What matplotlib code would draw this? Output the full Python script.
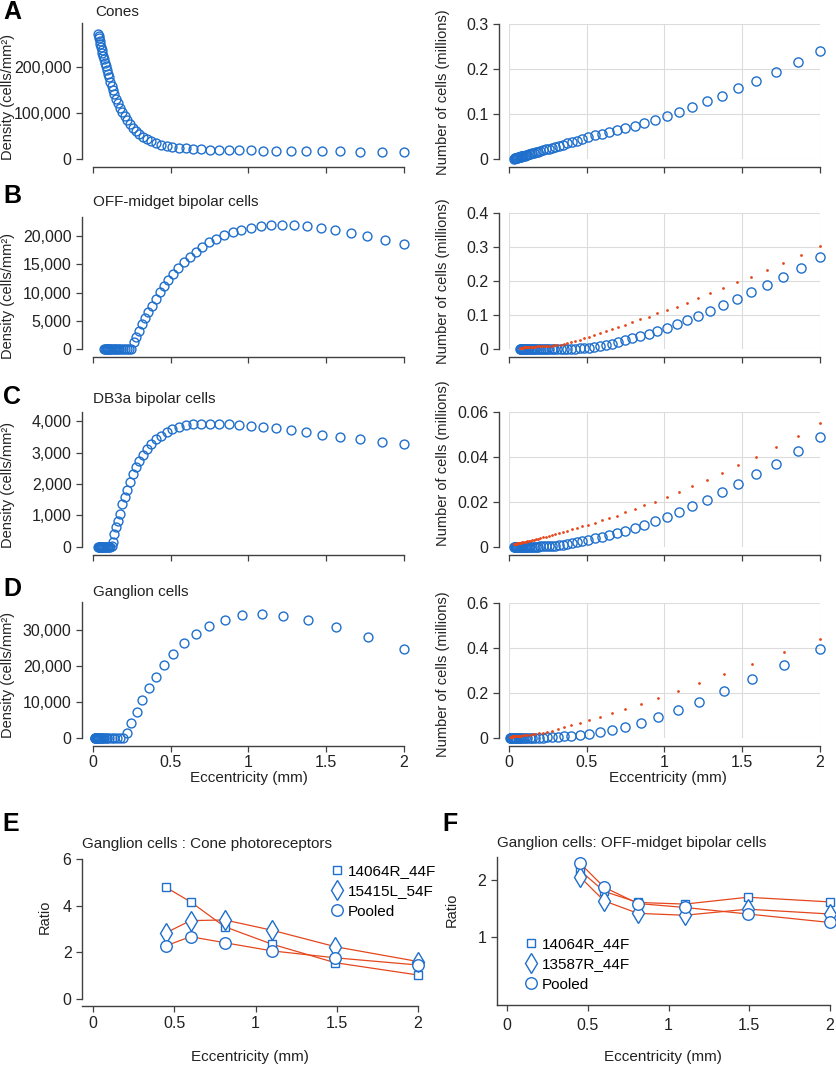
import matplotlib
matplotlib.use('Agg')
import matplotlib.pyplot as plt
from matplotlib.ticker import FuncFormatter, NullLocator
from matplotlib.lines import Line2D

plt.rcParams['font.family'] = ['Liberation Sans', 'DejaVu Sans']

# ---------------- data ----------------
# eccentricity (mm) sampling for cones / DB3a rows
ecc_ac = [0.035, 0.038, 0.041, 0.044, 0.048, 0.052, 0.056, 0.060, 0.065, 0.070,
          0.076, 0.082, 0.088, 0.095, 0.102, 0.110, 0.119, 0.128, 0.138, 0.149,
          0.161, 0.174, 0.188, 0.203, 0.219, 0.237, 0.256, 0.276, 0.298, 0.322,
          0.348, 0.376, 0.406, 0.438, 0.473, 0.511, 0.552, 0.597, 0.645, 0.696,
          0.750, 0.810, 0.872, 0.939, 1.014, 1.091, 1.177, 1.271, 1.370, 1.475,
          1.590, 1.717, 1.856, 2.000]

cone_density = [272000, 267000, 262000, 257000, 250000, 244000, 237000, 231000, 224000, 217000,
                209000, 201000, 193000, 185000, 177000, 168000, 159000, 150000, 141000, 131000,
                121000, 111000, 102000, 93000, 84000, 76000, 68000, 61000, 54000, 48000,
                43000, 38000, 34000, 31000, 28500, 26500, 24500, 23000, 22000, 21200,
                20500, 20000, 19500, 19000, 18600, 18200, 17800, 17400, 17100, 16800,
                16500, 16200, 15900, 15600]

cone_count = [0.0010, 0.0013, 0.0016, 0.0019, 0.0023, 0.0027, 0.0031, 0.0035, 0.0040, 0.0045,
              0.0051, 0.0057, 0.0063, 0.0070, 0.0077, 0.0085, 0.0094, 0.0103, 0.0113, 0.0124,
              0.0136, 0.0149, 0.0164, 0.0179, 0.0195, 0.0213, 0.0232, 0.0252, 0.0273, 0.0297,
              0.0322, 0.0350, 0.0378, 0.0410, 0.0445, 0.0480, 0.0525, 0.0565, 0.0595, 0.0640,
              0.0680, 0.0735, 0.0800, 0.0875, 0.0960, 0.1040, 0.1150, 0.1280, 0.1410, 0.1570,
              0.1740, 0.1940, 0.2160, 0.2400]

db3a_density = [0, 0, 0, 0, 0, 0, 0, 0, 0, 0,
                0, 0, 0, 0, 0, 0, 20, 150, 400, 620,
                820, 1050, 1350, 1580, 1820, 2060, 2300, 2530, 2720, 2920,
                3100, 3260, 3420, 3540, 3660, 3750, 3820, 3870, 3895, 3905,
                3915, 3915, 3900, 3875, 3850, 3815, 3780, 3715, 3640, 3565,
                3490, 3415, 3340, 3265]

db3a_count = [0, 0, 0, 0, 0, 0, 0, 0, 0, 0,
              0, 0, 0, 0, 0, 0, 0, 0, 0, 0.00001,
              0.00002, 0.00004, 0.00007, 0.0001, 0.00015, 0.0002, 0.0003, 0.0004, 0.0005, 0.0007,
              0.0009, 0.0012, 0.0016, 0.0020, 0.0025, 0.0031, 0.0037, 0.0044, 0.0052, 0.0061,
              0.0071, 0.0084, 0.0098, 0.0114, 0.0134, 0.0157, 0.0181, 0.0210, 0.0243, 0.0281,
              0.0323, 0.0370, 0.0428, 0.0489]

db3a_cone_count = [0.0012, 0.0013, 0.0013, 0.0013, 0.0014, 0.0014, 0.0015, 0.0015, 0.0016, 0.0016,
                   0.0017, 0.0018, 0.0019, 0.0020, 0.0021, 0.0022, 0.0024, 0.0025, 0.0027, 0.0029,
                   0.0031, 0.0034, 0.0036, 0.0039, 0.0042, 0.0045, 0.0048, 0.0052, 0.0056, 0.0061,
                   0.0066, 0.0071, 0.0077, 0.0083, 0.0092, 0.0099, 0.0108, 0.0119, 0.0129, 0.0139,
                   0.0153, 0.0169, 0.0184, 0.0201, 0.0222, 0.0244, 0.0270, 0.0296, 0.0329, 0.0363,
                   0.0400, 0.0446, 0.0496, 0.0553]

# OFF-midget bipolar row
ecc_b = [0.072, 0.077, 0.082, 0.087, 0.092, 0.098, 0.104, 0.111, 0.118, 0.125,
         0.133, 0.142, 0.151, 0.160, 0.170, 0.181, 0.193, 0.205, 0.218, 0.232,
         0.246, 0.262, 0.277, 0.293, 0.312, 0.333, 0.355, 0.377, 0.402, 0.428,
         0.456, 0.484, 0.514, 0.548, 0.584, 0.622, 0.662, 0.704, 0.747, 0.794,
         0.845, 0.899, 0.954, 1.014, 1.079, 1.147, 1.218, 1.293, 1.374, 1.464,
         1.556, 1.657, 1.764, 1.878, 2.000]

midget_density = [0, 0, 0, 0, 0, 0, 0, 0, 0, 0,
                  0, 0, 0, 0, 0, 0, 0, 0, 0, 0,
                  0, 1240, 2240, 3300, 4440, 5560, 6670, 7740, 8930, 10050,
                  11110, 12300, 13370, 14380, 15370, 16330, 17270, 18100, 18920, 19580,
                  20170, 20700, 21150, 21500, 21750, 21950, 22050, 21950, 21800, 21500,
                  21150, 20650, 20050, 19400, 18700]

midget_count = [0, 0, 0, 0, 0, 0, 0, 0, 0, 0,
                0, 0, 0, 0, 0, 0, 0, 0, 0, 0,
                0, 0, 0, 0.0001, 0.0002, 0.0003, 0.0005, 0.0007, 0.0010, 0.0016,
                0.0024, 0.0035, 0.0050, 0.0070, 0.0095, 0.0127, 0.0167, 0.0216, 0.0260, 0.0320,
                0.0380, 0.0450, 0.0530, 0.0630, 0.0735, 0.0850, 0.0980, 0.1130, 0.1290, 0.1490,
                0.1690, 0.1900, 0.2140, 0.2400, 0.2700]

midget_cone_count = [0.0040, 0.0043, 0.0046, 0.0049, 0.0052, 0.0055, 0.0058, 0.0061, 0.0064, 0.0067,
                     0.0070, 0.0073, 0.0076, 0.0079, 0.0082, 0.0085, 0.0088, 0.0091, 0.0094, 0.0097,
                     0.0100, 0.0105, 0.0110, 0.0117, 0.0125, 0.0135, 0.0155, 0.0180, 0.0205, 0.0240,
                     0.0270, 0.0320, 0.0360, 0.0420, 0.0470, 0.0540, 0.0600, 0.0667, 0.0725, 0.0800,
                     0.0880, 0.0960, 0.1060, 0.1160, 0.1250, 0.1370, 0.1500, 0.1650, 0.1790, 0.1970,
                     0.2140, 0.2330, 0.2550, 0.2770, 0.3040]

# ganglion row
ecc_d = [0.011, 0.013, 0.015, 0.017, 0.019, 0.021, 0.024, 0.027, 0.031, 0.035,
         0.039, 0.045, 0.050, 0.057, 0.064, 0.073, 0.082, 0.093, 0.105, 0.119,
         0.134, 0.152, 0.172, 0.194, 0.219, 0.245, 0.281, 0.317, 0.358, 0.403,
         0.459, 0.516, 0.585, 0.662, 0.748, 0.849, 0.960, 1.085, 1.224, 1.383,
         1.565, 1.768, 2.000]

ganglion_density = [0, 0, 0, 0, 0, 0, 0, 0, 0, 0,
                    0, 0, 0, 0, 0, 0, 0, 0, 0, 0,
                    0, 0, 0, 0, 1560, 4320, 7360, 10580, 13800, 17020,
                    20150, 23280, 26220, 28890, 31090, 32750, 33950, 34220, 33860, 32660,
                    30640, 28060, 24750]

ganglion_count = [0, 0, 0, 0, 0, 0, 0, 0, 0, 0,
                  0, 0, 0, 0, 0, 0, 0, 0, 0, 0,
                  0, 0, 0, 0, 0.0003, 0.0010, 0.0020, 0.0035, 0.0060, 0.0090,
                  0.0130, 0.0180, 0.0250, 0.0330, 0.0490, 0.0660, 0.0910, 0.1210, 0.1590, 0.2060,
                  0.2600, 0.3240, 0.3930]

ganglion_cone_count = [0.0048, 0.0049, 0.0050, 0.0050, 0.0051, 0.0052, 0.0054, 0.0056, 0.0058, 0.0060,
                       0.0063, 0.0066, 0.0070, 0.0075, 0.0080, 0.0085, 0.0092, 0.0100, 0.0110, 0.0120,
                       0.0135, 0.0150, 0.0170, 0.0190, 0.0220, 0.0260, 0.0320, 0.0400, 0.0470, 0.0550,
                       0.0660, 0.0790, 0.0930, 0.1090, 0.1290, 0.1510, 0.1780, 0.2060, 0.2410, 0.2810,
                       0.3260, 0.3790, 0.4370]

# ratio panels
ratio_ecc = [0.45, 0.60, 0.81, 1.10, 1.49, 2.00]
gc_cone_14064 = [4.79, 4.17, 3.10, 2.35, 1.55, 1.02]
gc_cone_15415 = [2.84, 3.36, 3.39, 2.95, 2.24, 1.60]
gc_cone_pooled = [2.28, 2.67, 2.41, 2.06, 1.76, 1.45]
gc_midget_14064 = [2.25, 1.74, 1.52, 1.49, 1.62, 1.53]
gc_midget_13587 = [2.08, 1.55, 1.33, 1.30, 1.40, 1.32]
gc_midget_pooled = [2.46, 1.83, 1.50, 1.43, 1.32, 1.19]

ecc_ticks = [0, 0.5, 1, 1.5, 2]

# ---------------- figure ----------------
W, H = 837, 1065
BLUE = '#1f6fcc'
ORANGE = '#e5471c'
INK = '#222222'
AXC = '#404040'
FS = 10.5      # titles / axis labels / legend
TFS = 11.5     # tick labels

fig = plt.figure(figsize=(W / 100, H / 100), dpi=100)


def px_axes(left, right, top, bottom):
    ax = fig.add_axes([left / W, 1 - bottom / H, (right - left) / W, (bottom - top) / H])
    ax._box = (left, right, top, bottom)
    return ax


def label_at(ax, which, text, px, py):
    left, right, top, bottom = ax._box
    fx = (px - left) / (right - left)
    fy = (bottom - py) / (bottom - top)
    if which == 'y':
        ax.set_ylabel(text, fontsize=FS, color=INK)
        ax.yaxis.set_label_coords(fx, fy)
        ax.yaxis.label.set_va('center')
    else:
        ax.set_xlabel(text, fontsize=FS + 0.5, color=INK)
        ax.xaxis.set_label_coords(fx, fy)
        ax.xaxis.label.set_va('center')


def style(ax, left_out, bottom_out, xlabels, xpad=2.5):
    for s in ['top', 'right']:
        ax.spines[s].set_visible(False)
    for s in ['left', 'bottom']:
        ax.spines[s].set_color(AXC)
        ax.spines[s].set_linewidth(1.0)
    ax.spines['left'].set_position(('outward', left_out * 0.72))
    ax.spines['bottom'].set_position(('outward', bottom_out * 0.72))
    ax.tick_params(direction='out', length=4, width=0.9, color=AXC,
                   labelcolor=INK, labelsize=TFS)
    ax.tick_params(axis='y', pad=3.5)
    ax.tick_params(axis='x', pad=xpad, labelbottom=xlabels)
    ax.set_xticks(ecc_ticks)
    ax.xaxis.set_major_formatter(FuncFormatter(lambda v, p: f'{v:g}'))


def density_panel(box, x, y, ytop, yticks, xlabels=False):
    ax = px_axes(*box)
    ax.plot(x, y, 'o', ms=6.4, mfc='none', mec=BLUE, mew=1.0, clip_on=False)
    ax.set_xlim(0, 2)
    ax.set_ylim(0, ytop)
    ax.set_yticks(yticks)
    ax.yaxis.set_major_formatter(FuncFormatter(lambda v, p: f'{v:,.0f}'))
    style(ax, 11, 8, xlabels)
    return ax


def count_panel(box, x, blue, orange, ytop, yticks, xlabels=False):
    ax = px_axes(*box)
    ax.grid(True, color='#dcdcdc', lw=0.8)
    ax.set_axisbelow(True)
    ax.plot(x, blue, 'o', ms=6.6, mfc='none', mec=BLUE, mew=1.0, clip_on=False, zorder=3)
    if orange is not None:
        ax.plot(x, orange, 'o', ms=2.0, color=ORANGE, mew=0, clip_on=False, zorder=4)
    ax.set_xlim(0, 2)
    ax.set_ylim(0, ytop)
    ax.set_yticks(yticks)
    ax.yaxis.set_major_formatter(FuncFormatter(lambda v, p: f'{v:g}'))
    style(ax, 10, 8, xlabels)
    return ax


LX0, LX1 = 93, 404
RX0, RX1 = 508.7, 820

# Row A
a1 = density_panel((LX0, LX1, 23, 159), ecc_ac, cone_density, 295000, [0, 100000, 200000])
a2 = count_panel((RX0, RX1, 24, 159), ecc_ac, cone_count, None, 0.3, [0, 0.1, 0.2, 0.3])
# Row B
b1 = density_panel((LX0, LX1, 217, 349.3), ecc_b, midget_density, 23400,
                   [0, 5000, 10000, 15000, 20000])
b2 = count_panel((RX0, RX1, 213.3, 349.3), ecc_b, midget_count, midget_cone_count, 0.4,
                 [0, 0.1, 0.2, 0.3, 0.4])
# Row C
c1 = density_panel((LX0, LX1, 411.7, 546.7), ecc_ac, db3a_density, 4300,
                   [0, 1000, 2000, 3000, 4000])
c2 = count_panel((RX0, RX1, 412.3, 546.7), ecc_ac, db3a_count, db3a_cone_count, 0.06,
                 [0, 0.02, 0.04, 0.06])
# Row D
d1 = density_panel((LX0, LX1, 601.7, 738.3), ecc_d, ganglion_density, 37700,
                   [0, 10000, 20000, 30000], xlabels=True)
d2 = count_panel((RX0, RX1, 602.7, 737.7), ecc_d, ganglion_count, ganglion_cone_count, 0.6,
                 [0, 0.2, 0.4, 0.6], xlabels=True)

for ax, yc in [(a1, 97.5), (b1, 296), (c1, 485), (d1, 675)]:
    label_at(ax, 'y', 'Density (cells/mm²)', 8, yc)
for ax, yc in [(a2, 92.5), (b2, 281), (c2, 463), (d2, 674)]:
    label_at(ax, 'y', 'Number of cells (millions)', 443, yc)
label_at(d1, 'x', 'Eccentricity (mm)', 248.5, 778.3)
label_at(d2, 'x', 'Eccentricity (mm)', 668, 778.3)


def ratio_panel(box, xlim, ylim, series, labels, log=False, bottom_out=0, xpad=3.5):
    ax = px_axes(*box)
    styles = [('s', 5.8), ('d', 10.5), ('o', 8.3)]
    handles = []
    for y, lab, (m, ms) in zip(series, labels, styles):
        ax.plot(ratio_ecc, y, color=ORANGE, lw=0.9, marker=m, ms=ms, mfc='white',
                mec=BLUE, mew=1.0, clip_on=False)
        handles.append(Line2D([], [], ls='none', marker=m, ms=ms, mfc='white',
                              mec=BLUE, mew=1.0, label=lab))
    if log:
        ax.set_yscale('log')
    ax.set_xlim(*xlim)
    ax.set_ylim(*ylim)
    style(ax, 0, bottom_out, True, xpad=xpad)
    return ax, handles


legend_kw = dict(bbox_transform=fig.transFigure, frameon=False, fontsize=FS + 0.5,
                 borderpad=0, borderaxespad=0, handlelength=0.9, handletextpad=0.25,
                 labelspacing=0.42, loc='upper left')

e_ax, e_h = ratio_panel((82, 418, 859.3, 998.7), (-0.0677, 2), (0, 6),
                        [gc_cone_14064, gc_cone_15415, gc_cone_pooled],
                        ['14064R_44F', '15415L_54F', 'Pooled'], bottom_out=7)
e_ax.set_yticks([0, 2, 4, 6])
e_ax.yaxis.set_major_formatter(FuncFormatter(lambda v, p: f'{v:g}'))
e_ax.spines['left'].set_bounds(0, 6)
label_at(e_ax, 'y', 'Ratio', 45, 916.7)
label_at(e_ax, 'x', 'Eccentricity (mm)', 250, 1056.7)
e_ax.legend(handles=e_h, bbox_to_anchor=(330.5 / W, 1 - 864 / H), **legend_kw)

f_ax, f_h = ratio_panel((496.7, 830, 856.7, 1005), (-0.0657, 2), (0.434, 2.659),
                        [gc_midget_14064, gc_midget_13587, gc_midget_pooled],
                        ['14064R_44F', '13587R_44F', 'Pooled'], log=True, xpad=5)
f_ax.set_yticks([1, 2])
f_ax.yaxis.set_minor_locator(NullLocator())
f_ax.yaxis.set_major_formatter(FuncFormatter(lambda v, p: f'{v:g}'))
label_at(f_ax, 'y', 'Ratio', 451.7, 910)
label_at(f_ax, 'x', 'Eccentricity (mm)', 663, 1056.7)
f_ax.legend(handles=f_h, bbox_to_anchor=(524.5 / W, 1 - 937 / H), **legend_kw)

# titles and panel letters
titles = [(95, 12, 'Cones'), (93, 201.7, 'OFF-midget bipolar cells'),
          (93, 399, 'DB3a bipolar cells'), (93, 592, 'Ganglion cells'),
          (82, 844, 'Ganglion cells : Cone photoreceptors'),
          (497, 842.7, 'Ganglion cells: OFF-midget bipolar cells')]
for x, y, t in titles:
    fig.text(x / W, 1 - y / H, t, ha='left', va='center', fontsize=FS + 0.5, color=INK)

letters = [(3, 12, 'A'), (3, 196, 'B'), (3, 396.5, 'C'), (3, 589, 'D'),
           (2, 824, 'E'), (442, 824, 'F')]
for x, y, t in letters:
    fig.text(x / W, 1 - y / H, t, ha='left', va='center', fontsize=18,
             fontweight='bold', color='black')

fig.savefig('out.png', dpi=100)
